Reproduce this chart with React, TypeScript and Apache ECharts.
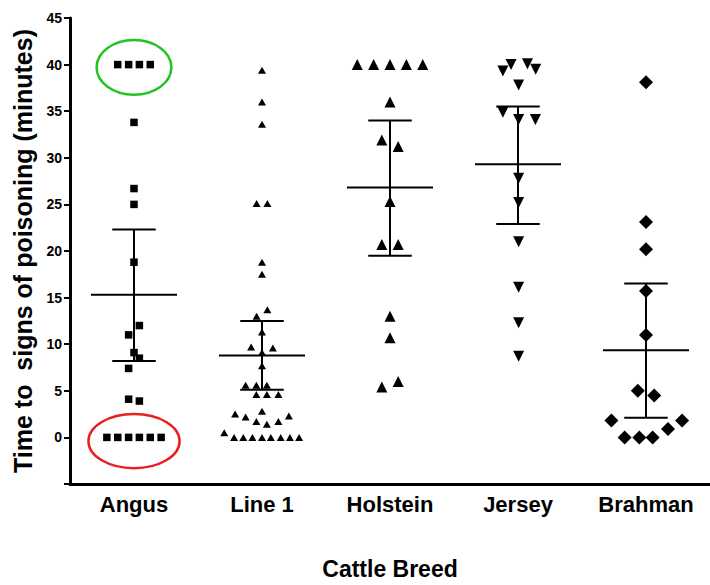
import React, { useEffect, useRef } from "react";
import * as echarts from "echarts";

// ---- data ----
const categories = ["Angus", "Line 1", "Holstein", "Jersey", "Brahman"];

const angusValues = [40, 40, 40, 40, 33.8, 26.7, 25.0, 18.8, 12.0, 11.0, 9.1, 8.5, 7.4, 4.1, 3.9, 0, 0, 0, 0, 0, 0];
const angusOffsets = [-0.127, -0.042, 0.042, 0.127, 0, 0, 0, 0, 0.042, -0.042, 0, 0.042, -0.042, -0.042, 0.042, -0.212, -0.127, -0.042, 0.042, 0.127, 0.212];

const line1Values = [39.4, 36.0, 33.6, 25.1, 25.1, 18.8, 17.5, 13.7, 13.0, 11.3, 9.7, 9.6, 9.1, 7.7, 5.6, 5.6, 5.6, 4.6, 4.6, 4.6, 2.5, 2.2, 2.8, 2.3, 1.7, 1.4, 1.7, 0.5, 0, 0, 0, 0, 0, 0, 0, 0];
const line1Offsets = [0, 0, 0, -0.042, 0.042, 0, 0, 0.042, -0.042, 0, -0.085, 0.085, 0, 0, -0.128, -0.044, 0.038, -0.044, 0.038, 0.128, -0.21, -0.128, 0, 0.21, -0.044, 0.038, 0.128, -0.295, -0.218, -0.146, -0.075, 0, 0.069, 0.146, 0.218, 0.29];

const holsteinValues = [40, 40, 40, 40, 40, 36.0, 31.9, 31.2, 25.3, 20.7, 20.7, 13.0, 10.7, 5.4, 6.0];
const holsteinOffsets = [-0.256, -0.128, 0, 0.128, 0.256, 0, -0.064, 0.064, 0, -0.064, 0.064, 0, 0, -0.064, 0.064];

const jerseyValues = [40.0, 40.1, 39.3, 39.5, 37.8, 34.9, 34.1, 34.1, 27.8, 25.2, 21.0, 16.1, 12.3, 8.7];
const jerseyOffsets = [-0.054, 0.074, -0.118, 0.138, 0.005, -0.118, 0.005, 0.136, 0.005, 0.005, 0.005, 0.005, 0.005, 0.005];

const brahmanValues = [38.1, 23.1, 20.2, 15.7, 11.0, 5.0, 4.5, 1.8, 0, 0, 0, 0.9, 1.8];
const brahmanOffsets = [0, 0, 0, 0, 0, -0.064, 0.064, -0.27, -0.167, -0.052, 0.052, 0.172, 0.282];

const meanValues = [15.3, 8.8, 26.8, 29.3, 9.35];
const ciLow = [8.2, 5.1, 19.5, 22.9, 2.1];
const ciHigh = [22.3, 12.5, 34.0, 35.5, 16.5];

const yTicks = { min: -5, max: 45, interval: 5 };

// highlight ellipses: [categoryIndex, centerValue, radiusX (category units), radiusY (value units)]
const highlightGreen = [0, 39.7, 0.292, 2.93];
const highlightRed = [0, -0.4, 0.356, 2.9];

const FONT = "'Liberation Sans', Arial, Helvetica, sans-serif";

export default function App() {
  const ref = useRef<HTMLDivElement>(null);

  useEffect(() => {
    if (!ref.current) return;
    const chart = echarts.init(ref.current, null, { renderer: "svg" });

    const groups = [
      { values: angusValues, offsets: angusOffsets, symbol: "rect", size: 7.5, rotate: 0 },
      { values: line1Values, offsets: line1Offsets, symbol: "triangle", size: [8, 7], rotate: 0 },
      { values: holsteinValues, offsets: holsteinOffsets, symbol: "triangle", size: 11, rotate: 0 },
      { values: jerseyValues, offsets: jerseyOffsets, symbol: "triangle", size: 11, rotate: 180 },
      { values: brahmanValues, offsets: brahmanOffsets, symbol: "diamond", size: 14, rotate: 0 },
    ];

    const scatterSeries = groups.map((g, gi) => ({
      type: "scatter",
      name: categories[gi],
      xAxisIndex: 1,
      yAxisIndex: 0,
      symbol: g.symbol,
      symbolSize: g.size,
      symbolRotate: g.rotate,
      itemStyle: { color: "#000", opacity: 1 },
      data: g.values.map((v, i) => [gi + g.offsets[i], v]),
      z: 3,
    }));

    const errorSeries = {
      type: "custom",
      xAxisIndex: 1,
      yAxisIndex: 0,
      z: 4,
      data: meanValues.map((m, i) => [i, m, ciLow[i], ciHigh[i]]),
      renderItem: (params: any, api: any) => {
        const x = api.value(0);
        const pm = api.coord([x, api.value(1)]);
        const pl = api.coord([x, api.value(2)]);
        const ph = api.coord([x, api.value(3)]);
        const unit = api.size([1, 0])[0];
        const mh = unit * 0.336;
        const ch = unit * 0.17;
        const style = { stroke: "#000", lineWidth: 2 };
        return {
          type: "group",
          children: [
            { type: "line", shape: { x1: pm[0] - mh, y1: pm[1], x2: pm[0] + mh, y2: pm[1] }, style },
            { type: "line", shape: { x1: pl[0], y1: pl[1], x2: ph[0], y2: ph[1] }, style },
            { type: "line", shape: { x1: pl[0] - ch, y1: pl[1], x2: pl[0] + ch, y2: pl[1] }, style },
            { type: "line", shape: { x1: ph[0] - ch, y1: ph[1], x2: ph[0] + ch, y2: ph[1] }, style },
          ],
        };
      },
    };

    const ellipseSeries = {
      type: "custom",
      xAxisIndex: 1,
      yAxisIndex: 0,
      z: 5,
      data: [
        [...highlightGreen, 0],
        [...highlightRed, 1],
      ],
      renderItem: (params: any, api: any) => {
        const c = api.coord([api.value(0), api.value(1)]);
        const sz = api.size([api.value(2), api.value(3)]);
        const color = api.value(4) === 0 ? "#22c422" : "#e82020";
        return {
          type: "ellipse",
          shape: { cx: c[0], cy: c[1], rx: sz[0], ry: sz[1] },
          style: { fill: "none", stroke: color, lineWidth: 2.5 },
        };
      },
    };

    chart.setOption({
      animation: false,
      backgroundColor: "#fff",
      grid: { left: 70, top: 18, width: 650, height: 469, containLabel: false },
      xAxis: [
        {
          type: "category",
          data: categories,
          boundaryGap: true,
          position: "bottom",
          axisLine: { onZero: false, lineStyle: { color: "#000", width: 3 } },
          axisTick: { alignWithLabel: true, length: 6, lineStyle: { color: "#000", width: 2 } },
          axisLabel: { color: "#000", fontSize: 22, fontWeight: "bold", fontFamily: FONT, margin: 9 },
          splitLine: { show: false },
          name: "Cattle Breed",
          nameLocation: "middle",
          nameGap: 73,
          nameTextStyle: { color: "#000", fontSize: 23, fontWeight: "bold", fontFamily: FONT },
        },
        {
          type: "value",
          min: -0.5,
          max: 4.5,
          show: false,
          splitLine: { show: false },
        },
      ],
      yAxis: {
        type: "value",
        min: yTicks.min,
        max: yTicks.max,
        interval: yTicks.interval,
        axisLine: { show: true, onZero: false, lineStyle: { color: "#000", width: 3 } },
        axisTick: { show: true, length: 6, lineStyle: { color: "#000", width: 2 } },
        axisLabel: {
          color: "#000",
          fontSize: 14,
          fontWeight: "bold",
          fontFamily: FONT,
          margin: 8,
          formatter: (v: number) => (v < 0 ? "" : String(v)),
        },
        splitLine: { show: false },
        name: "Time to  signs of poisoning (minutes)",
        nameLocation: "middle",
        nameGap: 30,
        nameTextStyle: { color: "#000", fontSize: 25, fontWeight: "bold", fontFamily: FONT },
      },
      series: [...scatterSeries, errorSeries, ellipseSeries],
    });

    return () => chart.dispose();
  }, []);

  return (
    <div
      ref={ref}
      style={{ position: "fixed", left: 0, top: 0, width: 710, height: 585, background: "#fff" }}
    />
  );
}
